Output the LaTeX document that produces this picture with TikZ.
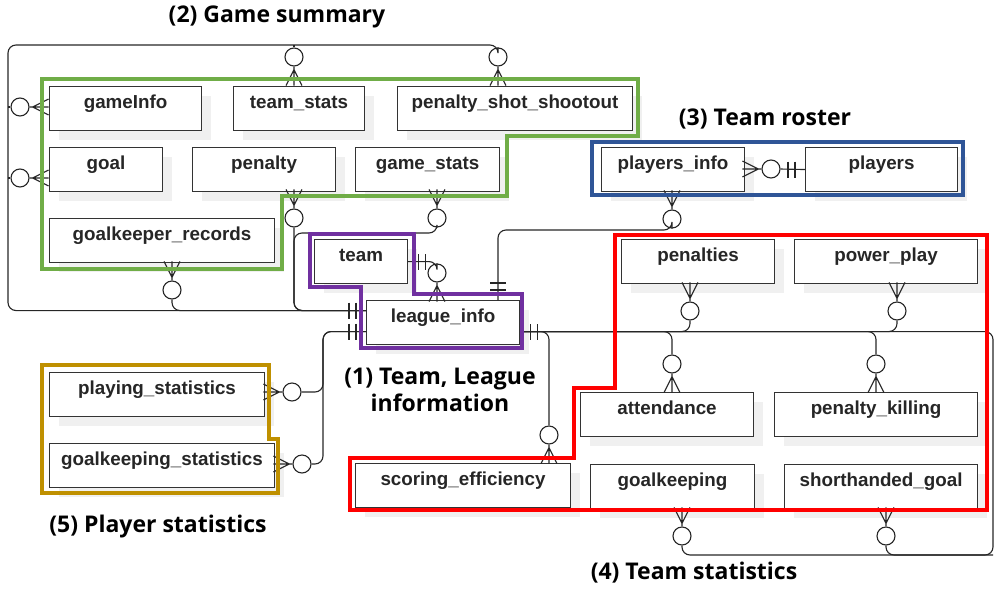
\documentclass[tikz,border=0pt]{standalone}
\usepackage{fontspec}
\setmainfont{Liberation Sans}
\newfontfamily\grpfont{Open Sans}
\usetikzlibrary{shadows}
\definecolor{grpgreen}{HTML}{70AD47}
\definecolor{grppurple}{HTML}{7030A0}
\definecolor{grpblue}{HTML}{2F5597}
\definecolor{grpred}{HTML}{FF0000}
\definecolor{grpgold}{HTML}{BF9000}
\begin{document}
\begin{tikzpicture}[x=1pt,y=-1pt,
	ent/.style={draw=black!80,line width=1.1pt,fill=white,anchor=north west,inner sep=0pt,minimum height=44pt,text height=12pt,text depth=12pt,text=black!85,font=\fontsize{18.8}{20}\selectfont\bfseries,drop shadow={shadow xshift=9pt,shadow yshift=-9pt,fill=black!6,opacity=1}},
	ring/.style={circle,draw=black!85,fill=white,minimum size=18pt,inner sep=0pt,line width=1.1pt},
	lnk/.style={line width=1.1pt,draw=black!85},
	grp/.style={line width=3.6pt,line join=miter},
	grplabel/.style={font=\grpfont\bfseries\fontsize{23}{27}\selectfont,align=center}]
	\useasboundingbox(0,0)rectangle(994,590);
	% entities
	\node[ent,minimum width=152pt](GI)at(49,86){gameInfo};
	\node[ent,minimum width=131pt](TS)at(233,86){team\_stats};
	\node[ent,minimum width=235pt](PS)at(397,86){penalty\_shot\_shootout};
	\node[ent,minimum width=113pt](GO)at(49,147){goal};
	\node[ent,minimum width=143pt](PE)at(192,147){penalty};
	\node[ent,minimum width=144pt](GS)at(355,147){game\_stats};
	\node[ent,minimum width=225pt](GR)at(49,218){goalkeeper\_records};
	\node[ent,minimum width=93pt](TM)at(314,239){team};
	\node[ent,minimum width=153pt](LI)at(366,300){league\_info};
	\node[ent,minimum width=143pt](PI)at(601,147){players\_info};
	\node[ent,minimum width=152pt](PL)at(805,147){players};
	\node[ent,minimum width=153pt](PN)at(621,239){penalties};
	\node[ent,minimum width=183pt](PP)at(794,239){power\_play};
	\node[ent,minimum width=173pt](AT)at(580,392){attendance};
	\node[ent,minimum width=203pt](PK)at(774,392){penalty\_killing};
	\node[ent,minimum width=164pt](GP)at(590,464){goalkeeping};
	\node[ent,minimum width=193pt](SH)at(784,464){shorthanded\_goal};
	\node[ent,minimum width=215pt](SE)at(355,463){scoring\_efficiency};
	\node[ent,minimum width=215pt](PY)at(49,372){playing\_statistics};
	\node[ent,minimum width=225pt](GT)at(49,443){goalkeeping\_statistics};
	% rings
	\node[ring](rGI)at(20,107){};
	\node[ring](rGO)at(20,178){};
	\node[ring](rTS)at(294,57){};
	\node[ring](rPS)at(498,57){};
	\node[ring](rPE)at(294,218){};
	\node[ring](rGS)at(437,218){};
	\node[ring](rGR)at(172,290){};
	\node[ring](rTM)at(437,273){};
	\node[ring](rPI)at(672,219){};
	\node[ring](rPL)at(771,169){};
	\node[ring](rPN)at(690,311){};
	\node[ring](rPP)at(897,311){};
	\node[ring](rAT)at(672,364){};
	\node[ring](rPK)at(876,364){};
	\node[ring](rSE)at(549,435){};
	\node[ring](rGP)at(682,536){};
	\node[ring](rSH)at(886,536){};
	\node[ring](rPY)at(292,392){};
	\node[ring](rGT)at(302,464){};
	% joints
	\coordinate(LIa)at([yshift=12pt]LI.west);
	\coordinate(LIc)at([yshift=-9pt]LI.west);
	\coordinate(LIb)at([yshift=-9pt]LI.east);
	\coordinate(TL)at(8,45);
	\coordinate(JA)at(294,233);
	\coordinate(JB)at(498,230);
	\coordinate(LIt)at(JB|-LI.north);
	\coordinate(BR)at(993,555);
	\coordinate(JC)at(323,464);
	\coordinate(JD)at(JC|-LIc);
	% game summary
	\draw[lnk,rounded corners=8pt](rPS.north)|-(TL)|-(LIa);
	\draw[lnk](rTS.north)--(rTS.north|-TL);
	\foreach\r in{rGI,rGO}{\draw[lnk](\r.west)--(\r.west-|TL);}
	\foreach\r in{rGR,rPE}{\draw[lnk,rounded corners=8pt](\r.south)|-(LIa);}
	\draw[lnk,rounded corners=8pt](rGS.south)|-(JA)|-(LIa);
	% team, players
	\draw[lnk,rounded corners=8pt](TM.east)-|(rTM.north);
	\draw[lnk,rounded corners=8pt](rPI.south)|-(JB)--(LIt);
	\draw[lnk](rPL.east)--(PL.west);
	% team statistics
	\draw[lnk,rounded corners=8pt](LIb)-|(BR)-|(rGP.south);
	\draw[lnk,rounded corners=8pt](rSH.south)|-(BR);
	\foreach\r in{rPN,rPP}{\draw[lnk,rounded corners=8pt](\r.south)|-(LIb);}
	\foreach\r in{rSE,rAT,rPK}{\draw[lnk,rounded corners=8pt](LIb)-|(\r.north);}
	% player statistics
	\draw[lnk,rounded corners=8pt](LIc)-|(JC)--(rGT.east);
	\draw[lnk,rounded corners=8pt](rPY.east)-|(JD)--(LIc);
	% zero or many
	\foreach\r/\a in{rGI/0,rGO/0,rTS/-90,rPS/-90,rPE/90,rGS/90,rGR/90,rTM/-90,rPI/90,rPL/180,rPN/90,rPP/90,rAT/-90,rPK/-90,rSE/-90,rGP/90,rSH/90,rPY/180,rGT/180}
		{\draw[lnk,shift={(\r.\a)},rotate=\a](0pt,0pt)--(19pt,0pt)(3pt,0pt)--(19pt,8pt)(3pt,0pt)--(19pt,-8pt);}
	% one and only one
	\foreach\p/\a in{LIa/180,LIc/180,LIb/0,TM.east/0,LIt/90,PL.west/180}
		{\draw[lnk,shift={(\p)},rotate=\a](10pt,-8pt)--(10pt,8pt)(17pt,-8pt)--(17pt,8pt);}
	% groups
	\draw[grp,grpgreen](42,79)--(638,79)--(638,136)--(507,136)--(507,196)--(282,196)--(282,269)--(42,269)--cycle;
	\draw[grp,grppurple](310,234)--(414,234)--(414,294)--(522,294)--(522,348)--(361,348)--(361,287)--(310,287)--cycle;
	\draw[grp,grpblue](592,142)rectangle(963,195);
	\draw[grp,grpred](615,235)--(987,235)--(987,510)--(350,510)--(350,458)--(574,458)--(574,388)--(615,388)--cycle;
	\draw[grp,grpgold](42,365)--(269,365)--(269,439)--(278,439)--(278,493)--(42,493)--cycle;
	% captions
	\node[grplabel](c2)at(277,17){(2) Game summary};
	\node[grplabel](c3)at(765,119){(3) Team roster};
	\node[grplabel](c1)at(440,390){(1) Team, League\\information};
	\node[grplabel](c5)at(158,527){(5) Player statistics};
	\node[grplabel](c4)at(694,573){(4) Team statistics};
\end{tikzpicture}
\end{document}
